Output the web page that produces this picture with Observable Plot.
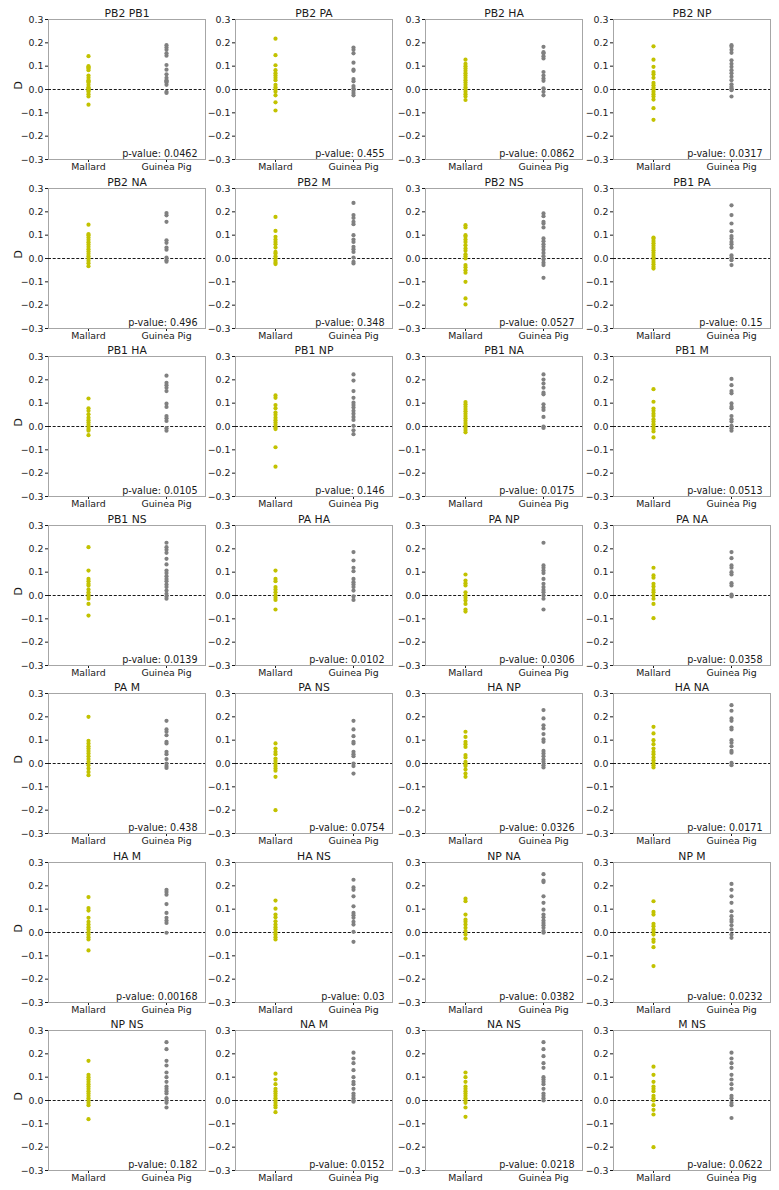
<!DOCTYPE html>
<html>
<head>
<meta charset="utf-8">
<script src="https://cdn.jsdelivr.net/npm/d3@7"></script>
<script src="https://cdn.jsdelivr.net/npm/@observablehq/plot@0.6"></script>
<style>
  html, body { margin: 0; padding: 0; background: #ffffff; }
  #chart { position: relative; width: 779px; height: 1190px; overflow: hidden; font-family: "DejaVu Sans", sans-serif; }
  .cell { position: absolute; }
</style>
</head>
<body>
<div id="chart"></div>
<script>
// ---------- data ----------
const groups = ["Mallard", "Guinea Pig"];
const groupColors = ["#c2c200", "#808080"];
const yTicks = [-0.3, -0.2, -0.1, 0.0, 0.1, 0.2, 0.3];

const pairs = [
  "PB2 PB1", "PB2 PA", "PB2 HA", "PB2 NP",
  "PB2 NA", "PB2 M", "PB2 NS", "PB1 PA",
  "PB1 HA", "PB1 NP", "PB1 NA", "PB1 M",
  "PB1 NS", "PA HA", "PA NP", "PA NA",
  "PA M", "PA NS", "HA NP", "HA NA",
  "HA M", "HA NS", "NP NA", "NP M",
  "NP NS", "NA M", "NA NS", "M NS"
];

const pValues = [
  "0.0462", "0.455", "0.0862", "0.0317",
  "0.496", "0.348", "0.0527", "0.15",
  "0.0105", "0.146", "0.0175", "0.0513",
  "0.0139", "0.0102", "0.0306", "0.0358",
  "0.438", "0.0754", "0.0326", "0.0171",
  "0.00168", "0.03", "0.0382", "0.0232",
  "0.182", "0.0152", "0.0218", "0.0622"
];

const mallardD = [
  [0.143, 0.10, 0.095, 0.09, 0.083, 0.06, 0.05, 0.04, 0.035, 0.03, 0.02, 0.01, 0.005, 0, -0.005, -0.01, -0.02, -0.03, -0.065],
  [0.218, 0.147, 0.104, 0.083, 0.07, 0.06, 0.05, 0.04, 0.02, 0.01, 0, -0.01, -0.025, -0.055, -0.09],
  [0.128, 0.11, 0.1, 0.09, 0.08, 0.07, 0.06, 0.05, 0.04, 0.03, 0.02, 0.01, 0, -0.01, -0.02, -0.03, -0.045],
  [0.185, 0.128, 0.097, 0.075, 0.065, 0.05, 0.028, 0.018, 0.008, 0, -0.01, -0.02, -0.03, -0.043, -0.08, -0.13],
  [0.145, 0.105, 0.1, 0.09, 0.08, 0.07, 0.06, 0.05, 0.04, 0.03, 0.02, 0.01, 0.0, -0.01, -0.02, -0.033],
  [0.178, 0.118, 0.093, 0.081, 0.071, 0.061, 0.047, 0.028, 0.021, 0.01, 0, -0.01, -0.018, -0.024],
  [0.143, 0.133, 0.1, 0.093, 0.081, 0.071, 0.057, 0.043, 0.033, 0.018, 0.01, 0, -0.028, -0.038, -0.05, -0.061, -0.1, -0.171, -0.197],
  [0.09, 0.085, 0.075, 0.065, 0.055, 0.045, 0.035, 0.025, 0.015, 0.005, -0.005, -0.015, -0.025, -0.035, -0.043],
  [0.12, 0.078, 0.067, 0.052, 0.038, 0.027, 0.017, 0.007, -0.001, -0.011, -0.018, -0.037],
  [0.133, 0.123, 0.092, 0.078, 0.06, 0.05, 0.038, 0.027, 0.017, 0.007, -0.004, -0.011, -0.089, -0.172],
  [0.105, 0.095, 0.085, 0.075, 0.065, 0.055, 0.045, 0.035, 0.025, 0.015, 0.005, -0.005, -0.015, -0.025],
  [0.16, 0.106, 0.077, 0.067, 0.055, 0.045, 0.031, 0.021, 0.01, -0.001, -0.011, -0.021, -0.047],
  [0.207, 0.107, 0.071, 0.061, 0.05, 0.043, 0.026, 0.014, 0.004, -0.004, -0.014, -0.036, -0.086],
  [0.107, 0.071, 0.061, 0.036, 0.026, 0.014, 0, -0.01, -0.019, -0.06],
  [0.09, 0.064, 0.053, 0.043, 0.014, 0, -0.01, -0.021, -0.036, -0.06, -0.069],
  [0.119, 0.086, 0.076, 0.05, 0.039, 0.024, 0.014, 0, -0.014, -0.036, -0.097],
  [0.2, 0.097, 0.086, 0.074, 0.064, 0.054, 0.043, 0.031, 0.019, 0.007, -0.007, -0.021, -0.036, -0.05],
  [0.086, 0.064, 0.05, 0.04, 0.021, 0.011, 0, -0.011, -0.021, -0.031, -0.057, -0.2],
  [0.136, 0.114, 0.093, 0.083, 0.071, 0.036, 0.026, 0.007, -0.003, -0.011, -0.026, -0.043, -0.057],
  [0.157, 0.129, 0.1, 0.083, 0.064, 0.05, 0.04, 0.026, 0.014, 0.003, -0.007, -0.017],
  [0.152, 0.105, 0.094, 0.063, 0.046, 0.034, 0.023, 0.013, 0.001, -0.009, -0.02, -0.03, -0.077],
  [0.137, 0.102, 0.077, 0.065, 0.048, 0.034, 0.023, 0.013, 0.001, -0.009, -0.02, -0.03],
  [0.145, 0.134, 0.077, 0.055, 0.046, 0.034, 0.02, 0.006, -0.009, -0.026],
  [0.134, 0.088, 0.077, 0.037, 0.027, 0.013, 0.003, -0.009, -0.03, -0.04, -0.063, -0.144],
  [0.17, 0.11, 0.1, 0.09, 0.08, 0.07, 0.06, 0.05, 0.04, 0.03, 0.02, 0.01, 0, -0.01, -0.02, -0.08],
  [0.115, 0.09, 0.07, 0.05, 0.04, 0.03, 0.02, 0.01, 0, -0.01, -0.02, -0.03, -0.05],
  [0.12, 0.1, 0.08, 0.06, 0.05, 0.04, 0.03, 0.02, 0.01, 0, -0.01, -0.03, -0.07],
  [0.145, 0.11, 0.08, 0.06, 0.05, 0.04, 0.02, 0.01, 0, -0.02, -0.04, -0.06, -0.2]
];

const guineaPigD = [
  [0.19, 0.18, 0.17, 0.155, 0.145, 0.105, 0.085, 0.065, 0.05, 0.04, 0.035, 0.03, 0.02, -0.01, -0.015],
  [0.18, 0.17, 0.155, 0.115, 0.085, 0.08, 0.045, 0.035, 0.015, 0.005, -0.005, -0.015, -0.025],
  [0.183, 0.16, 0.155, 0.143, 0.133, 0.075, 0.06, 0.047, 0.037, 0.005, -0.01, -0.025],
  [0.19, 0.183, 0.17, 0.157, 0.125, 0.11, 0.097, 0.083, 0.07, 0.055, 0.04, 0.022, 0.012, 0.005, -0.003, -0.03],
  [0.195, 0.185, 0.157, 0.078, 0.067, 0.047, 0.038, 0.004, -0.007, -0.014],
  [0.238, 0.186, 0.174, 0.157, 0.147, 0.1, 0.081, 0.071, 0.05, 0.04, 0.028, 0.004, -0.014, -0.021],
  [0.193, 0.181, 0.157, 0.15, 0.133, 0.086, 0.074, 0.061, 0.05, 0.038, 0.024, 0.01, -0.004, -0.018, -0.028, -0.083],
  [0.228, 0.186, 0.15, 0.117, 0.096, 0.086, 0.071, 0.061, 0.047, 0.014, 0.004, -0.007, -0.028],
  [0.218, 0.187, 0.177, 0.166, 0.152, 0.098, 0.084, 0.045, 0.035, 0.024, -0.007, -0.018],
  [0.223, 0.197, 0.152, 0.123, 0.102, 0.092, 0.081, 0.067, 0.055, 0.041, 0.028, 0.003, -0.016, -0.033],
  [0.223, 0.201, 0.184, 0.166, 0.145, 0.138, 0.095, 0.081, 0.071, 0.041, 0, -0.006],
  [0.204, 0.177, 0.152, 0.142, 0.099, 0.085, 0.078, 0.045, 0.031, 0.021, 0.003, -0.007, -0.018],
  [0.226, 0.207, 0.196, 0.183, 0.157, 0.133, 0.107, 0.096, 0.083, 0.071, 0.061, 0.047, 0.036, 0.021, 0.007, -0.004, -0.014],
  [0.186, 0.15, 0.119, 0.104, 0.071, 0.057, 0.047, 0.036, 0.021, -0.004, -0.019],
  [0.226, 0.129, 0.119, 0.107, 0.096, 0.071, 0.05, 0.036, 0.024, 0.014, 0, -0.014, -0.06],
  [0.186, 0.16, 0.129, 0.119, 0.1, 0.09, 0.053, 0.043, 0.004, -0.004],
  [0.183, 0.146, 0.136, 0.121, 0.093, 0.086, 0.05, 0.04, 0.019, 0, -0.011, -0.019],
  [0.183, 0.146, 0.117, 0.093, 0.086, 0.05, 0.04, 0.031, 0, -0.011, -0.043],
  [0.229, 0.193, 0.164, 0.15, 0.126, 0.103, 0.093, 0.054, 0.043, 0.031, 0.017, 0.007, -0.007, -0.017],
  [0.25, 0.226, 0.193, 0.183, 0.154, 0.146, 0.1, 0.089, 0.074, 0.054, 0.046, 0.003, -0.007],
  [0.183, 0.174, 0.162, 0.122, 0.084, 0.063, 0.051, 0.041, -0.001],
  [0.226, 0.193, 0.183, 0.155, 0.112, 0.084, 0.074, 0.063, 0.046, 0.034, 0.003, -0.04],
  [0.25, 0.222, 0.216, 0.155, 0.127, 0.098, 0.077, 0.065, 0.051, 0.041, 0.031, 0.02, 0.006, -0.001],
  [0.208, 0.183, 0.155, 0.127, 0.091, 0.07, 0.055, 0.046, 0.031, 0.013, -0.009, -0.023],
  [0.25, 0.22, 0.17, 0.15, 0.12, 0.1, 0.08, 0.06, 0.05, 0.04, 0.03, 0.01, 0, -0.01, -0.03],
  [0.205, 0.18, 0.16, 0.13, 0.1, 0.08, 0.07, 0.05, 0.03, 0.02, 0.01, 0, -0.005],
  [0.25, 0.22, 0.19, 0.16, 0.14, 0.1, 0.09, 0.08, 0.07, 0.05, 0.03, 0.02, 0.01, 0],
  [0.205, 0.18, 0.16, 0.14, 0.11, 0.09, 0.07, 0.05, 0.02, 0.01, -0.01, -0.02, -0.075]
];

// ---------- layout ----------
const nCols = 4;
const axesLefts = [48, 235, 425, 613];
const axesWidth = 157;
const rowPitch = 168.5;
const marginTop = 19, marginBottom = 12, axesHeight = 140;
const fmt = d3.format(".1f");

const chart = document.getElementById("chart");

pairs.forEach((title, i) => {
  const col = i % nCols, row = Math.floor(i / nCols);
  const mLeft = col === 0 ? 48 : 32;
  const mRight = 2;
  const width = mLeft + axesWidth + mRight;
  const height = marginTop + axesHeight + marginBottom;

  const data = [
    ...mallardD[i].map(v => ({group: groups[0], D: v})),
    ...guineaPigD[i].map(v => ({group: groups[1], D: v}))
  ];

  const marks = [
    Plot.frame({stroke: "#a6a6a6", strokeWidth: 1}),
    Plot.ruleY([0], {stroke: "#1a1a1a", strokeWidth: 1, strokeDasharray: "3,1.7"}),
    Plot.dot(data, {x: "group", y: "D", fill: "group", r: 2.1, stroke: "none"}),
    Plot.text(["p-value: " + pValues[i]], {
      frameAnchor: "bottom-right", text: d => d, dx: -8, dy: -5.5,
      textAnchor: "end", lineAnchor: "middle", fontSize: 9.6, fill: "#1a1a1a"
    }),
    Plot.text([title], {
      frameAnchor: "top", text: d => d, dy: -6, lineAnchor: "middle",
      fontSize: 10.8, fill: "#1a1a1a"
    })
  ];
  if (col === 0) {
    marks.push(Plot.text(["D"], {
      frameAnchor: "left", text: d => d, dx: -30, rotate: -90,
      lineAnchor: "middle", fontSize: 10.8, fill: "#1a1a1a"
    }));
  }

  const svg = Plot.plot({
    width, height,
    marginLeft: mLeft, marginRight: mRight, marginTop, marginBottom,
    style: {
      fontFamily: "'DejaVu Sans', sans-serif",
      fontSize: "9.4px",
      color: "#1a1a1a",
      background: "transparent",
      overflow: "visible"
    },
    x: {type: "point", domain: groups, padding: 0.5, label: null, tickSize: 3, tickPadding: 1},
    y: {domain: [-0.3, 0.3], ticks: yTicks, tickFormat: fmt, label: null, tickSize: 3, tickPadding: 2},
    color: {domain: groups, range: groupColors},
    marks
  });

  const wrap = document.createElement("div");
  wrap.className = "cell";
  wrap.style.left = (axesLefts[col] - mLeft) + "px";
  wrap.style.top = (row * rowPitch) + "px";
  wrap.style.width = width + "px";
  wrap.style.height = height + "px";
  wrap.appendChild(svg);
  chart.appendChild(wrap);
});
</script>
</body>
</html>
